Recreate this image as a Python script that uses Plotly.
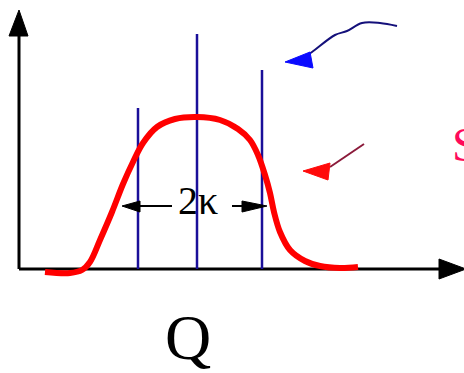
import plotly.graph_objects as go

# Lineshape S(Q): a broadened, flat-topped peak
Q = [26, 51, 63, 71, 81, 93, 104, 114, 124, 138, 156, 178, 201, 219, 231,
     239, 246, 251, 255, 261, 271, 286, 301, 321, 339]
S = [-3, -4, -1, 7, 29, 57, 85, 107, 126, 142, 150, 152, 149, 140, 129,
     114, 94, 76, 57, 37, 19, 8, 3, 1, 2]

# Marker lines: left edge, centre, right edge
line_q = [119, 178, 243]
line_h = [161, 235, 199]

# Width label between the edge markers
width_label = "2κ"
width_q = [179]
width_s = [65]

BLUE_LINE = "#1a0f99"
RED = "#ff0000"
BLACK = "#000000"
SERIF = "Liberation Serif, Times New Roman, serif"

fig = go.Figure()

# width label drawn beneath the marker lines
fig.add_trace(go.Scatter(x=width_q, y=width_s, mode="text", text=[width_label],
                         textfont=dict(family=SERIF, size=40, color=BLACK),
                         textposition="middle center", hoverinfo="skip"))

for q, h in zip(line_q, line_h):
    fig.add_trace(go.Scatter(x=[q, q], y=[0, h], mode="lines",
                             line=dict(color=BLUE_LINE, width=2.5), hoverinfo="skip"))

# blue pointer
fig.add_trace(go.Scatter(x=[378, 361, 343, 328, 316, 293, 284],
                         y=[243, 246, 246, 238, 234, 217, 211],
                         mode="lines", line=dict(color="#14107a", width=2, shape="spline"),
                         hoverinfo="skip"))
# red pointer
fig.add_trace(go.Scatter(x=[345, 311], y=[125, 102], mode="lines",
                         line=dict(color="#8b1a3a", width=2), hoverinfo="skip"))

fig.add_trace(go.Scatter(x=Q, y=S, mode="lines",
                         line=dict(color=RED, width=6, shape="spline", smoothing=1.0),
                         hoverinfo="skip"))

shapes = []
# axes
shapes.append(dict(type="line", x0=0, y0=0, x1=0, y1=236, line=dict(color=BLACK, width=3)))
shapes.append(dict(type="line", x0=0, y0=0, x1=422, y1=0, line=dict(color=BLACK, width=3)))
shapes.append(dict(type="path", path="M 0 259 L -10 233 L 9 233 Z",
                   fillcolor=BLACK, line=dict(color=BLACK, width=1)))
shapes.append(dict(type="path", path="M 447 0 L 420 10 L 420 -10 Z",
                   fillcolor=BLACK, line=dict(color=BLACK, width=1)))
# width arrows
shapes.append(dict(type="line", x0=153, y0=63, x1=118, y1=63, line=dict(color=BLACK, width=2)))
shapes.append(dict(type="path", path="M 103 63 L 121 68 L 121 57 Z",
                   fillcolor=BLACK, line=dict(color=BLACK, width=1)))
shapes.append(dict(type="line", x0=213, y0=63, x1=226, y1=63, line=dict(color=BLACK, width=2)))
shapes.append(dict(type="path", path="M 248 63 L 223 68 L 223 57 Z",
                   fillcolor=BLACK, line=dict(color=BLACK, width=1)))
# pointer heads
shapes.append(dict(type="path", path="M 266 207 L 291 217 L 294 201 Z",
                   fillcolor="#0a0aff", line=dict(color="#0a0aff", width=1)))
shapes.append(dict(type="path", path="M 284 98 L 311 106 L 309 89 Z",
                   fillcolor="#ff0a0a", line=dict(color="#ff0a0a", width=1)))
for s in shapes:
    s.update(xref="x", yref="y", layer="above" if s["type"] == "path" else "below")

annotations = [
    dict(x=431, y=125, text="S", showarrow=False, xanchor="left", yanchor="middle",
         font=dict(family=SERIF, size=48, color="#ff0a5a")),
    dict(x=169, y=-68, text="Q", showarrow=False, xanchor="center", yanchor="middle",
         font=dict(family=SERIF, size=64, color=BLACK)),
]

fig.update_layout(
    width=464, height=373,
    margin=dict(l=0, r=0, t=0, b=0),
    paper_bgcolor="white", plot_bgcolor="white",
    showlegend=False,
    shapes=shapes, annotations=annotations,
    xaxis=dict(range=[-19, 445], visible=False, fixedrange=True),
    yaxis=dict(range=[-104, 269], visible=False, fixedrange=True),
)

fig.write_html("out.html", config={"displayModeBar": False})
